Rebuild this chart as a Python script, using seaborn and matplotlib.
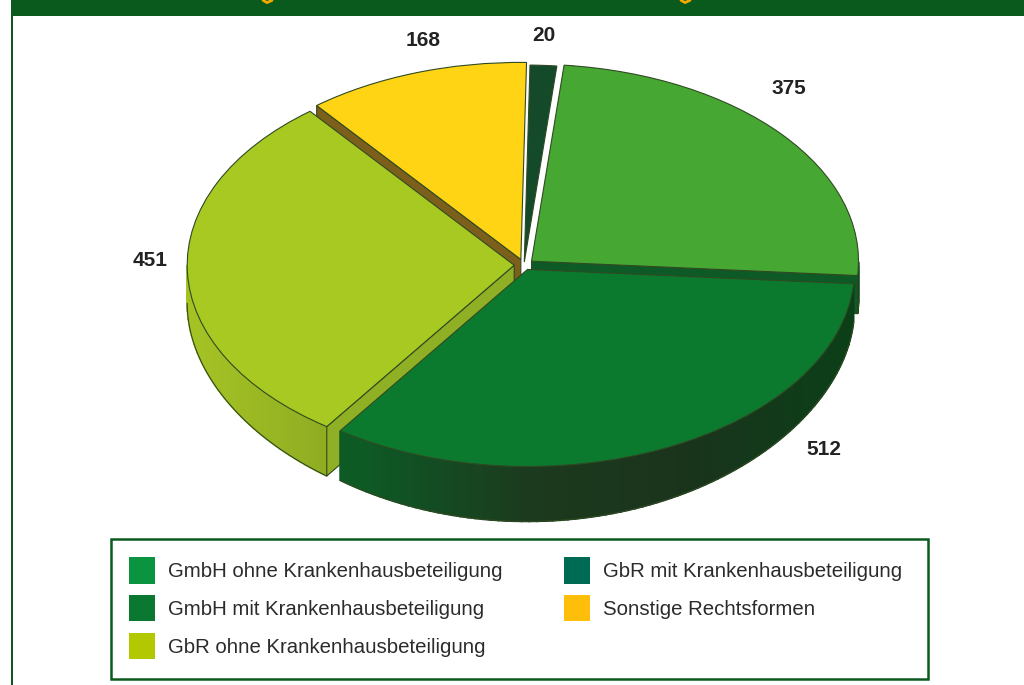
import matplotlib
matplotlib.use('Agg')
import matplotlib.pyplot as plt
from matplotlib.colors import to_rgb
from matplotlib.patches import Patch, Rectangle
import numpy as np
import seaborn as sns

# values, in pie order (clockwise from the top)
categories = ['GbR mit Krankenhausbeteiligung', 'GmbH ohne Krankenhausbeteiligung',
              'GmbH mit Krankenhausbeteiligung', 'GbR ohne Krankenhausbeteiligung',
              'Sonstige Rechtsformen']
values = [20, 375, 512, 451, 168]
explode = [0.015, 0.03, 0.025, 0.03, 0.03]
top_colors = ['#14492a', '#46a832', '#0c7a2e', '#a8c822', '#ffd414']
legend_colors = ['#006b54', '#0a9440', '#0a7830', '#b2c800', '#ffbe0a']
legend_order = [1, 2, 3, 0, 4]
label_xy = [(544, 35), (789, 88), (824, 449), (150, 260), (423, 40)]

W, H = 1024, 685
CX, CY, RX, RY = 524, 265, 327, 197
DARK_SIDE = ['#0d5a25', '#0d5a25', '#1c3a1e', '#1a341c', '#0b3f18']
OLIVE_SIDE = ['#a4c224', '#8aa622', '#8aa622', '#8aa622', '#8aa622']
GREEN_SIDE = ['#0b4a1c', '#0b4a1c']


def depth(theta):
    # front of the disc looks thicker than the sides
    return (38 + 17 * np.sin(np.radians(theta)) ** 2) / RY


def ramp(stops, t):
    rgb = np.array([to_rgb(c) for c in stops])
    pos = np.linspace(0, 1, len(stops))
    return [float(np.interp(t, pos, rgb[:, i])) for i in range(3)]


def draw_side(ax, wedge, stops, z):
    cx, cy = wedge.center
    th = np.linspace(wedge.theta1, wedge.theta2, 90)
    keep = th[np.sin(np.radians(th)) <= 0]
    for a, b in zip(keep[:-1], keep[1:]):
        xa, ya = cx + np.cos(np.radians(a)), cy + np.sin(np.radians(a))
        xb, yb = cx + np.cos(np.radians(b)), cy + np.sin(np.radians(b))
        t = (xa + 1) / 2
        ax.fill([xa, xb, xb, xa], [ya, yb, yb - depth(b), ya - depth(a)],
                color=ramp(stops, t), lw=1.2, zorder=z)
    # outline along the lower rim
    xs = cx + np.cos(np.radians(keep))
    ys = cy + np.sin(np.radians(keep)) - depth(keep)
    ax.plot(xs, ys, color='#2f4a22', lw=0.8, zorder=z + 0.05)


def draw_cut(ax, wedge, theta, color, z):
    cx, cy = wedge.center
    x, y = cx + np.cos(np.radians(theta)), cy + np.sin(np.radians(theta))
    d = depth(theta)
    ax.fill([cx, x, x, cx], [cy, y, y - d, cy - d], facecolor=color,
            edgecolor='#33461c', lw=0.8, zorder=z)


sns.set_theme(style='white')
plt.rcParams['font.family'] = ['Liberation Sans', 'DejaVu Sans']

fig = plt.figure(figsize=(W / 100, H / 100), dpi=100, facecolor='white')

# page frame, in pixel coordinates
page = fig.add_axes([0, 0, 1, 1])
page.set_xlim(0, W)
page.set_ylim(H, 0)
page.axis('off')
page.add_patch(Rectangle((11, 0), W - 11, 16, color='#0a5a1e', lw=0))
page.add_patch(Rectangle((11, 0), 2, H, color='#0a5a1e', lw=0))
page.add_patch(Rectangle((111, 539), 817, 140, fill=False, edgecolor='#0a5a1e', lw=1.8))
# tails of the cropped-off headline
for gx in [268, 686]:
    page.plot([gx - 5, gx - 1, gx + 4], [0.3, 2.6, 0.3], color='#f5a800', lw=2)

# pie, squashed to an ellipse by the non-equal axis scales
ax = fig.add_axes([0, 0, 1, 1])
ax.patch.set_alpha(0)
wedges, _ = ax.pie(values, colors=top_colors, explode=explode, startangle=89,
                   counterclock=False, radius=1,
                   wedgeprops={'edgecolor': '#2f4a22', 'linewidth': 0.8})
ax.set_aspect('auto')
ax.set_xlim(-CX / RX, (W - CX) / RX)
ax.set_ylim(-(H - CY) / RY, CY / RY)
ax.axis('off')

small, green, dark, olive, yellow = wedges
small.set_zorder(1.5)
yellow.set_zorder(2.5)
green.set_zorder(3.5)
olive.set_zorder(4.5)
dark.set_zorder(5.5)

draw_cut(ax, yellow, yellow.theta2 if np.cos(np.radians(yellow.theta2)) < -0.2 else yellow.theta1, '#7d5f1c', 2.2)
draw_side(ax, green, GREEN_SIDE, 3.1)
draw_cut(ax, green, green.theta1 if np.sin(np.radians(green.theta1)) < 0 else green.theta2, '#0e5a26', 3.2)
draw_side(ax, olive, OLIVE_SIDE, 4.1)
olive_front = olive.theta1 if np.sin(np.radians(olive.theta1)) < 0 else olive.theta2
draw_cut(ax, olive, olive_front, '#8fb024', 4.2)
draw_side(ax, dark, DARK_SIDE, 5.1)

for xy, v in zip(label_xy, values):
    page.text(xy[0], xy[1], str(v), fontsize=15, fontweight='bold', color='#222222',
              ha='center', va='center', zorder=10)
page.set_zorder(3)
page.patch.set_alpha(0)
ax.set_zorder(2)

handles = [Patch(facecolor=legend_colors[i], edgecolor='none') for i in legend_order]
names = [categories[i] for i in legend_order]
leg = fig.legend(handles, names, ncol=2, loc='upper left',
                 bbox_to_anchor=(112 / W, 1 - 540 / H), borderaxespad=0,
                 fontsize=14.7, handlelength=1.27, handleheight=1.6, handletextpad=0.64,
                 labelspacing=0.57, columnspacing=3.0, borderpad=0.85,
                 frameon=False, labelcolor='#2b2b2b')

fig.savefig('out.png', dpi=100)
